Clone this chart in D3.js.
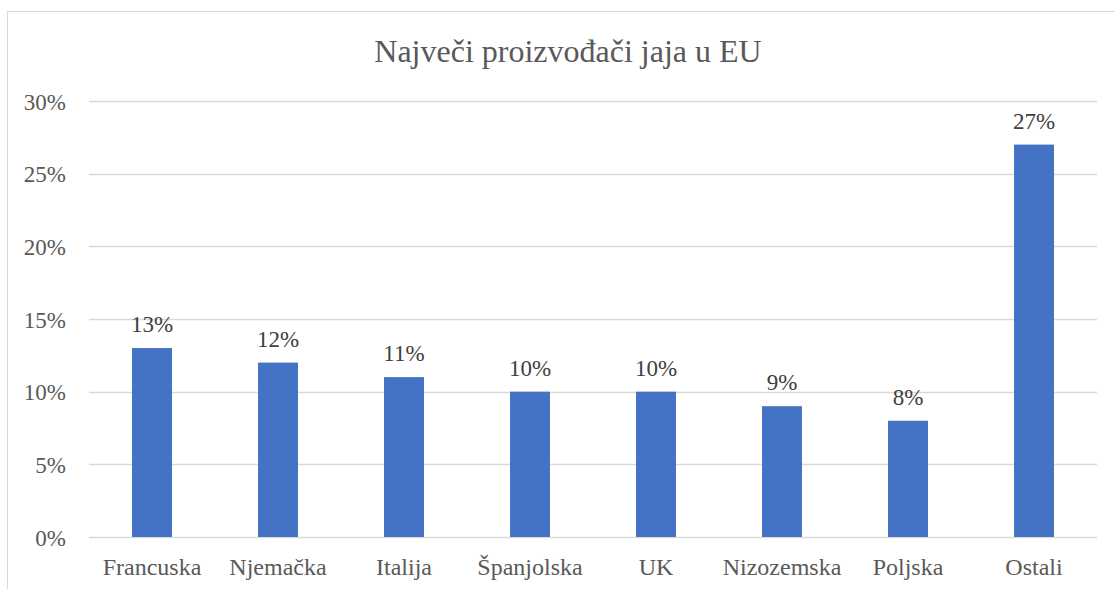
<!DOCTYPE html>
<html>
<head>
<meta charset="utf-8">
<script src="https://cdn.jsdelivr.net/npm/d3@7"></script>
<style>
  body { margin: 0; background: #fff; }
</style>
</head>
<body>
<div id="chart"></div>
<script>
const categories = ["Francuska", "Njemačka", "Italija", "Španjolska", "UK", "Nizozemska", "Poljska", "Ostali"];
const shares = [13, 12, 11, 10, 10, 9, 8, 27];
const yTicks = [0, 5, 10, 15, 20, 25, 30];
const title = "Največi proizvođači jaja u EU";

const width = 1115;
const height = 589;
const margin = { top: 101, right: 18, bottom: 52, left: 89 };
const fontFam = "Liberation Serif";

const svg = d3.select("#chart").append("svg")
  .attr("width", width)
  .attr("height", height);

// chart frame (right and bottom run off the picture)
svg.append("rect")
  .attr("x", 7.5).attr("y", 11.5)
  .attr("width", width + 20).attr("height", height + 20)
  .attr("fill", "none")
  .attr("stroke", "#d9d9d9")
  .attr("stroke-width", 1);

const x = d3.scaleBand()
  .domain(categories)
  .range([margin.left, width - margin.right])
  .paddingInner(0.683)
  .paddingOuter(0.3415);

const y = d3.scaleLinear()
  .domain([0, 30])
  .range([height - margin.bottom, margin.top]);

// gridlines
svg.append("g")
  .selectAll("line")
  .data(yTicks)
  .join("line")
  .attr("x1", margin.left)
  .attr("x2", width - margin.right)
  .attr("y1", d => Math.round(y(d)) + 0.5)
  .attr("y2", d => Math.round(y(d)) + 0.5)
  .attr("stroke", "#d9d9d9")
  .attr("stroke-width", 1.5);

// y axis labels
svg.append("g")
  .selectAll("text")
  .data(yTicks)
  .join("text")
  .attr("x", 66)
  .attr("y", d => y(d) + 8.5)
  .attr("text-anchor", "end")
  .attr("font-family", fontFam)
  .attr("font-size", 23)
  .attr("fill", "#595959")
  .text(d => d + "%");

// bars
svg.append("g")
  .selectAll("rect")
  .data(shares)
  .join("rect")
  .attr("x", (d, i) => x(categories[i]))
  .attr("y", d => y(d))
  .attr("width", x.bandwidth())
  .attr("height", d => y(0) - y(d))
  .attr("fill", "#4472c4");

// data labels
svg.append("g")
  .selectAll("text")
  .data(shares)
  .join("text")
  .attr("x", (d, i) => x(categories[i]) + x.bandwidth() / 2)
  .attr("y", d => y(d) - 16)
  .attr("text-anchor", "middle")
  .attr("font-family", fontFam)
  .attr("font-size", 23)
  .attr("fill", "#404040")
  .text(d => d + "%");

// category labels
svg.append("g")
  .selectAll("text")
  .data(categories)
  .join("text")
  .attr("x", d => x(d) + x.bandwidth() / 2)
  .attr("y", height - margin.bottom + 38)
  .attr("text-anchor", "middle")
  .attr("font-family", fontFam)
  .attr("font-size", 24)
  .attr("fill", "#595959")
  .text(d => d);

svg.append("text")
  .attr("x", 568)
  .attr("y", 62)
  .attr("text-anchor", "middle")
  .attr("font-family", fontFam)
  .attr("font-size", 32)
  .attr("fill", "#595959")
  .text(title);
</script>
</body>
</html>
